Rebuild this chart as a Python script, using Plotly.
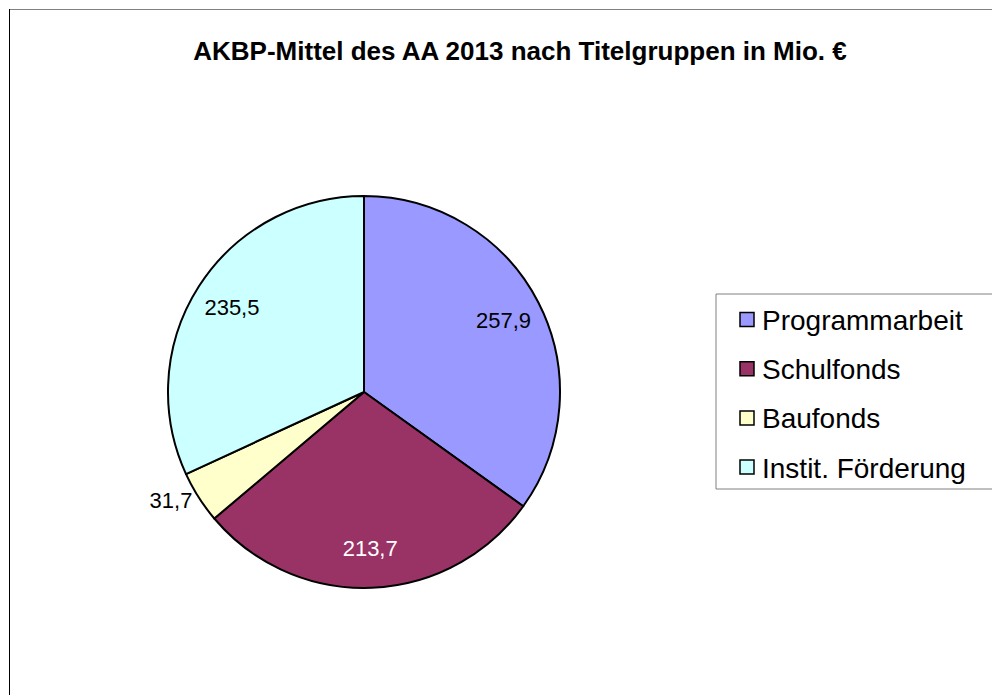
import plotly.graph_objects as go

categories = ["Programmarbeit", "Schulfonds", "Baufonds", "Instit. Förderung"]
values = [257.9, 213.7, 31.7, 235.5]
colors = ["#9999FF", "#993366", "#FFFFCC", "#CCFFFF"]
text_colors = ["#000000", "#FFFFFF", "#000000", "#000000"]
text_positions = ["inside", "inside", "outside", "inside"]
title_text = "AKBP-Mittel des AA 2013 nach Titelgruppen in Mio. €"

W, H = 1000, 695
FONT = "Liberation Sans, Arial, sans-serif"
CX, CY, R = 356, 384, 196  # pie centre/radius in figure pixels

dom = dict(x=[(CX - R) / W, (CX + R) / W],
           y=[(H - CY - R) / H, (H - CY + R) / H])

fig = go.Figure()
# full pie (slices)
fig.add_trace(go.Pie(
    labels=categories, values=values, sort=False, direction="clockwise", rotation=0,
    marker=dict(colors=colors, line=dict(color="#000000", width=2)),
    textinfo="none", showlegend=False, hoverinfo="label+value", domain=dom,
))
# transparent ring carrying the value labels further out
fig.add_trace(go.Pie(
    labels=categories, values=values, sort=False, direction="clockwise", rotation=0,
    hole=0.6,
    marker=dict(colors=["rgba(0,0,0,0)"] * len(values), line=dict(width=0)),
    texttemplate="%{value:.1f}",
    textposition=text_positions,
    insidetextorientation="horizontal",
    textfont=dict(family=FONT, size=22, color=text_colors),
    outsidetextfont=dict(family=FONT, size=22, color="#000000"),
    showlegend=False, hoverinfo="skip", domain=dom,
))

# frame
fig.add_shape(type="line", xref="paper", yref="paper", x0=1 / W, x1=1.0, y0=1 - 1.5 / H, y1=1 - 1.5 / H,
              line=dict(color="#808080", width=1))
fig.add_shape(type="line", xref="paper", yref="paper", x0=1.5 / W, x1=1.5 / W, y0=0, y1=1 - 1 / H,
              line=dict(color="#000000", width=1))

# legend box
lx0, lx1, ly0, ly1 = 708, 988, 286, 481
fig.add_shape(type="rect", xref="paper", yref="paper",
              x0=lx0 / W, x1=lx1 / W, y0=1 - ly1 / H, y1=1 - ly0 / H,
              line=dict(color="#808080", width=1), fillcolor="rgba(0,0,0,0)")
for i, (cat, col) in enumerate(zip(categories, colors)):
    cy = 311.5 + i * 49.2
    fig.add_shape(type="rect", xref="paper", yref="paper",
                  x0=732 / W, x1=746 / W, y0=1 - (cy + 7) / H, y1=1 - (cy - 7) / H,
                  line=dict(color="#000000", width=1.5), fillcolor=col)
    fig.add_annotation(xref="paper", yref="paper", x=752 / W, y=1 - (cy + 1) / H,
                       text=cat, showarrow=False, xanchor="left", yanchor="middle",
                       font=dict(family=FONT, size=28, color="#000000"))

fig.update_layout(
    width=W, height=H,
    margin=dict(l=0, r=0, t=0, b=0),
    paper_bgcolor="#FFFFFF",
    plot_bgcolor="#FFFFFF",
    separators=",.",
    title=dict(text="<b>" + title_text + "</b>", x=512 / W, xanchor="center",
               y=1 - 43 / H, yanchor="middle",
               font=dict(family=FONT, size=26, color="#000000")),
)

fig.write_html("out.html")
